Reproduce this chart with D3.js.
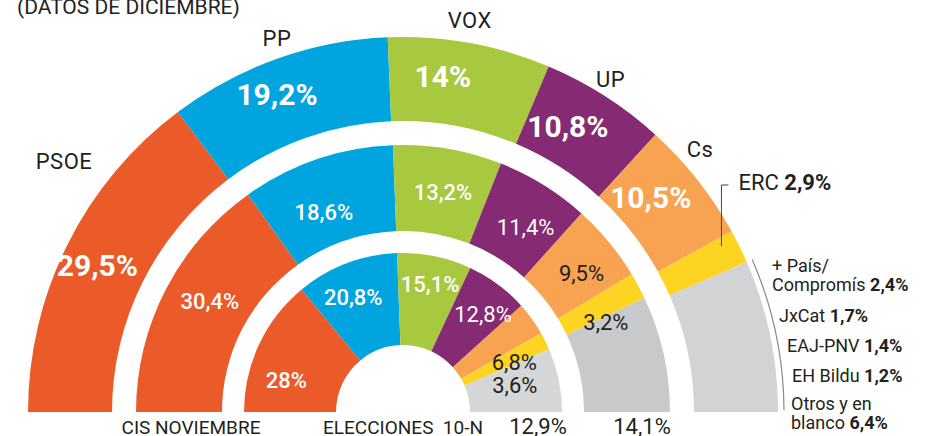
<!DOCTYPE html>
<html>
<head>
<meta charset="utf-8">
<script src="https://cdn.jsdelivr.net/npm/d3@7"></script>
<style>
body { margin: 0; background: #fff; }
svg text { font-family: Roboto, "Noto Sans", sans-serif; fill: #231f20; }
</style>
</head>
<body>
<div id="chart"></div>
<script>
// data
var parties = ['PSOE', 'PP', 'VOX', 'UP', 'Cs', 'ERC', 'Resto'];
var partyColors = ['#eb5a29', '#00a5df', '#a7c83f', '#862b73', '#f8a352', '#fcd421'];
var decValues = [29.5, 19.2, 14, 10.8, 10.5, 2.9];          // CIS diciembre (outer)
var novValues = [30.4, 18.6, 13.2, 11.4, 9.5, 3.2, 14.1];   // CIS noviembre (middle)
var elecValues = [28, 20.8, 15.1, 12.8, 6.8, 3.6, 12.9];    // Elecciones 10-N (inner)
var restNames = [['+ País/', 'Compromís'], ['JxCat'], ['EAJ-PNV'], ['EH Bildu'], ['Otros y en', 'blanco']];
var restValues = [2.4, 1.7, 1.4, 1.2, 6.4];

// outer ring: the grey block is the sum of the small parties
var decAll = decValues.concat([d3.sum(restValues)]);

var cx = 403, cy = 412;

var svg = d3.select('#chart').append('svg')
    .attr('width', 933)
    .attr('height', 436);

var g = svg.append('g')
    .attr('transform', 'translate(' + cx + ',' + cy + ')');

var pie = d3.pie().sort(null)
    .startAngle(-Math.PI / 2)
    .endAngle(Math.PI / 2);

var locale = d3.formatLocale({ decimal: ',', thousands: '.', grouping: [3], currency: ['', ''] });
var fmt = v => locale.format('.1~f')(v) + '%';
var rad = deg => deg * Math.PI / 180;
var polar = (r, a) => [r * Math.sin(a), -r * Math.cos(a)];

// label nudges [degrees, radius] per ring, per party
var rings = [
    { values: decAll, r0: 291, r1: 375, lr: 335, grey: '#d1d3d4', show: 5,
      nudge: [[-0.9, 4], [-2, 7], [-3.5, 3], [-2.6, -5], [-2.7, -7]] },
    { values: novValues, r0: 181, r1: 267, lr: 222, grey: '#c8c9cb', show: 6,
      nudge: [[2.7, 1], [-2.8, -7], [0.6, 2], [1.8, 0], [1.7, 4], [4.2, 0]] },
    { values: elecValues, r0: 67, r1: 159, lr: 123, grey: '#d5d6d8', show: 6,
      nudge: [[-9.9, -2], [-2.6, 2], [0.5, 8], [2.7, 3.5], [11.6, -1], [12.9, -8]] }
];

rings.forEach((ring, ri) => {
    var arcs = pie(ring.values);
    ring.arcs = arcs;
    var arc = d3.arc().innerRadius(ring.r0).outerRadius(ring.r1);

    g.selectAll('.slice' + ri)
        .data(arcs)
        .enter()
        .append('path')
        .attr('class', 'slice' + ri)
        .attr('d', arc)
        .attr('fill', (d, i) => i < partyColors.length ? partyColors[i] : ring.grey);

    g.selectAll('.val' + ri)
        .data(arcs.slice(0, ring.show))
        .enter()
        .append('text')
        .attr('class', 'val' + ri)
        .attr('transform', (d, i) => {
            var n = ring.nudge[i];
            var a = (d.startAngle + d.endAngle) / 2 + rad(n[0]);
            var p = polar(ring.lr + n[1], a);
            return 'translate(' + p[0] + ',' + p[1] + ')';
        })
        .attr('text-anchor', 'middle')
        .attr('dy', '0.36em')
        .style('font-size', ri == 0 ? '30px' : '22px')
        .style('font-weight', (d, i) => ri == 0 ? 700 : (i < 3 ? 500 : 400))
        .style('fill', (d, i) => (ri == 0 || i < 4) ? '#fff' : '#231f20')
        .text(d => fmt(d.value));
});

// party names around the outer ring
var outer = rings[0];
var nameNudge = [[10, 26], [1, -1], [-0.6, 2], [-0.6, -4], [-3.3, 1]];
g.selectAll('.name')
    .data(outer.arcs.slice(0, 5))
    .enter()
    .append('text')
    .attr('class', 'name')
    .attr('transform', (d, i) => {
        var n = nameNudge[i];
        var p = polar(396 + n[1], (d.startAngle + d.endAngle) / 2 + rad(n[0]));
        return 'translate(' + p[0] + ',' + p[1] + ')';
    })
    .attr('text-anchor', 'middle')
    .attr('dy', '0.36em')
    .style('font-size', '22px')
    .style('letter-spacing', '0.5px')
    .text((d, i) => parties[i]);

// ERC callout
var erc = outer.arcs[5];
var ercP = polar(359, erc.startAngle + 0.25 * (erc.endAngle - erc.startAngle));
g.append('path')
    .attr('d', 'M' + ercP[0] + ',' + ercP[1] + 'V' + (185 - cy) + 'h7')
    .attr('fill', 'none')
    .attr('stroke', '#444')
    .attr('stroke-width', 1);

var ercText = g.append('text')
    .attr('x', ercP[0] + 17)
    .attr('y', 190 - cy)
    .style('font-size', '22px');
ercText.append('tspan').text(parties[5] + ' ');
ercText.append('tspan').style('font-weight', 700).text(fmt(erc.value));

// bracket over the grey block
var rest = outer.arcs[6];
var bracket = d3.path();
bracket.arc(0, 0, 381, rest.startAngle - Math.PI / 2, rest.endAngle - Math.PI / 2 - 0.005);
g.append('path')
    .attr('d', bracket.toString())
    .attr('fill', 'none')
    .attr('stroke', '#888')
    .attr('stroke-width', 1.2);

// small parties list
var listX = [772, 779, 787, 792, 791];
var listY = [272, 322, 352, 382, 410];
restNames.forEach((lines, i) => {
    var t = svg.append('text')
        .attr('x', listX[i])
        .attr('y', listY[i])
        .style('font-size', '18px');
    lines.forEach((line, j) => {
        var ts = t.append('tspan').text(line);
        if (j > 0) ts.attr('x', listX[i]).attr('dy', 19);
    });
    t.append('tspan').text(' ');
    t.append('tspan').style('font-weight', 700).text(fmt(restValues[i]));
});

// titles
svg.append('text')
    .attr('x', 17)
    .attr('y', 14)
    .style('font-size', '21px')
    .text('(DATOS DE DICIEMBRE)');

svg.append('text')
    .attr('x', cx - 212)
    .attr('y', 434)
    .attr('text-anchor', 'middle')
    .style('font-size', '19px')
    .text('CIS NOVIEMBRE');

svg.append('text')
    .attr('x', cx)
    .attr('y', 434)
    .attr('text-anchor', 'middle')
    .style('font-size', '19px')
    .style('white-space', 'pre')
    .text('ELECCIONES  10-N');

svg.append('text')
    .attr('x', cx + (rings[2].r0 + rings[2].r1) / 2 + 22)
    .attr('y', 434)
    .attr('text-anchor', 'middle')
    .style('font-size', '22px')
    .text(fmt(elecValues[6]));

svg.append('text')
    .attr('x', cx + (rings[1].r0 + rings[1].r1) / 2 + 15)
    .attr('y', 434)
    .attr('text-anchor', 'middle')
    .style('font-size', '22px')
    .text(fmt(novValues[6]));
</script>
</body>
</html>
